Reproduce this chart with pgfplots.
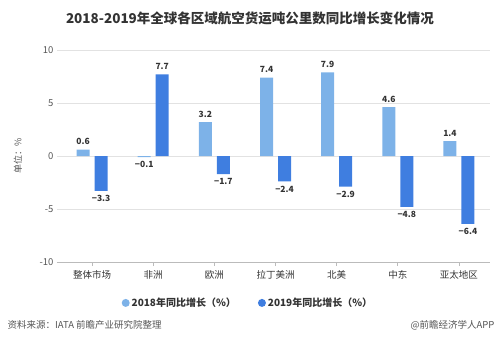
\documentclass[border=0pt]{standalone}
\usepackage{pgfplots}
\pgfplotsset{compat=1.18}
\usetikzlibrary{calc}
\usepackage{fontspec}
\setmainfont{Noto Sans CJK SC}
\definecolor{lb}{HTML}{7DB2E8}
\definecolor{db}{HTML}{3F7EE0}
\definecolor{gridc}{HTML}{E2E2E2}
\definecolor{axc}{HTML}{BBBBBB}
\definecolor{tickc}{HTML}{555555}
\definecolor{lblc}{HTML}{333333}
\begin{document}
\begin{tikzpicture}[x=1pt,y=1pt]
\begin{axis}[
  scale only axis, width=433pt, height=212pt,
  ybar=5pt, bar width=13pt,
  xmin=-0.574, xmax=6.508,
  ymin=-10, ymax=10,
  ytick={-10,-5,0,5,10},
  xtick={0,1,2,3,4,5,6},
  xticklabels={整体市场,非洲,欧洲,拉丁美洲,北美,中东,亚太地区},
  axis line style={draw=none},
  xtick pos=bottom,
  ytick pos=left,
  ymajorgrids, grid style={gridc, line width=0.6pt},
  extra y ticks={-10}, extra y tick labels={},
  extra y tick style={grid style={axc, line width=0.6pt}, major tick length=0pt},
  major x tick style={axc, line width=0.6pt},
  major y tick style={draw=none},
  xtick align=outside,
  major tick length=4pt,
  tick label style={font=\fontsize{9.5}{11}\selectfont, text=tickc},
  xticklabel style={yshift=-1pt, text=lblc},
  /pgf/number format/assume math mode=true,
  point meta=explicit symbolic,
  visualization depends on={y \as \rawy},
  nodes near coords,
  nodes near coords style={font=\fontsize{8.5}{10}\selectfont\bfseries, text=lblc},
  every node near coord/.append code={%
    \ifdim\rawy pt<0pt \pgfkeysalso{/tikz/anchor=north,/tikz/yshift=-1pt}%
    \else \pgfkeysalso{/tikz/anchor=south,/tikz/yshift=1pt}\fi},
  legend style={at={(0.441,-0.193)}, anchor=center, draw=none, legend columns=2,
    font=\fontsize{10}{12}\selectfont\bfseries, text=lblc,
    /tikz/every even column/.append style={column sep=20pt}},
  legend image code/.code={\fill[#1] (4pt,0pt) circle (4pt);},
  clip=false,
]
\coordinate (SW) at (rel axis cs:0,0);
\addplot[fill=lb, draw=none] coordinates {
 (0,0.6) [0.6] (1,-0.1) [−0.1] (2,3.2) [3.2] (3,7.4) [7.4] (4,7.9) [7.9] (5,4.6) [4.6] (6,1.4) [1.4]};
\addplot[fill=db, draw=none] coordinates {
 (0,-3.3) [−3.3] (1,7.7) [7.7] (2,-1.7) [−1.7] (3,-2.4) [−2.4] (4,-2.9) [−2.9] (5,-4.8) [−4.8] (6,-6.4) [−6.4]};
\legend{2018年同比增长（\%）,2019年同比增长（\%）}
\end{axis}
\begin{scope}[shift={($(SW)+(-57pt,-87pt)$)}]
\path (0,0) rectangle (499,349);
\node[font=\fontsize{13.5}{15}\selectfont\bfseries, text=lblc] at (250,331) {2018-2019年全球各区域航空货运吨公里数同比增长变化情况};
\node[font=\fontsize{9.5}{11}\selectfont, text=tickc, anchor=west] at (4,24) {资料来源：IATA 前瞻产业研究院整理};
\node[font=\fontsize{9.5}{11}\selectfont, text=tickc, anchor=east] at (498,24) {@前瞻经济学人APP};
\node[font=\fontsize{9}{11}\selectfont, text=tickc, rotate=90] at (18,193) {单位：\%};
\end{scope}
\end{tikzpicture}
\end{document}
